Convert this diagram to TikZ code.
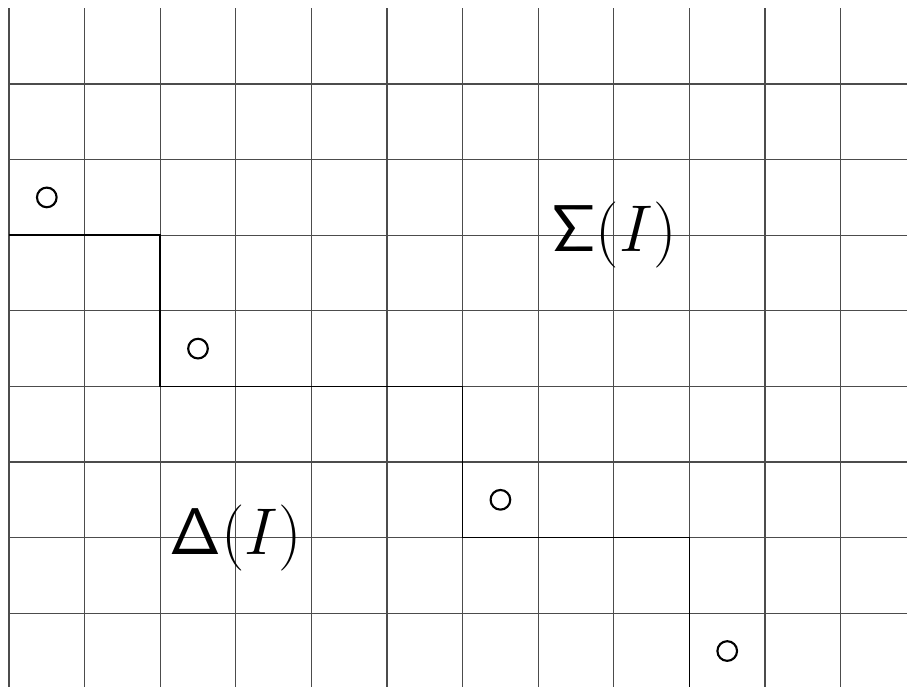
\documentclass[tikz,border=0pt]{standalone}
\begin{document}
\begin{tikzpicture}[x=1cm,y=1cm,
  gridline/.style={draw=black!70,line width=0.5pt},
  stair/.style={draw=black,line width=0.55pt},
  dot/.style={circle,draw=black,line width=0.8pt,minimum size=0.26cm,inner sep=0pt},
  biglabel/.style={font=\fontsize{23}{28}\selectfont,inner sep=0pt}]
\useasboundingbox (-0.119,0.037) rectangle (11.878,9.111);
\begin{scope}
\clip (-0.119,0.037) rectangle (11.878,9.111);
\foreach \x in {0,...,11} \draw[gridline] (\x,0) -- (\x,9);
\foreach \y in {1,...,8} \draw[gridline] (0,\y) -- (12,\y);
\draw[stair] (0,6) -- (2,6) -- (2,4) -- (6,4) -- (6,2) -- (9,2) -- (9,0);
\end{scope}
\node[dot] (c1) at (0.5,6.5) {};
\node[dot] (c2) at (2.5,4.5) {};
\node[dot] (c3) at (6.5,2.5) {};
\node[dot] (c4) at (9.5,0.5) {};
\node[biglabel] (sigma) at (8,6) {$\mathsf{\Sigma}(I)$};
\node[biglabel] (delta) at (3,2) {$\mathsf{\Delta}(I)$};
\end{tikzpicture}
\end{document}
